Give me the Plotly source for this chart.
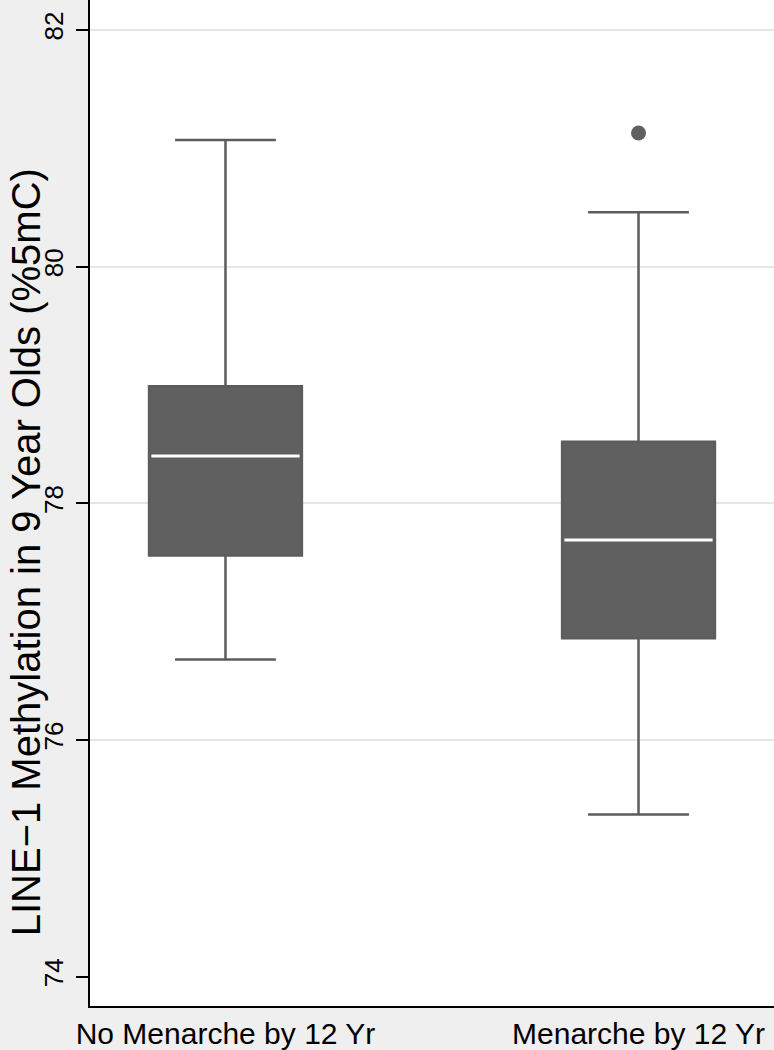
import plotly.graph_objects as go

categories = ["No Menarche by 12 Yr", "Menarche by 12 Yr"]
lower_whisker = [76.68, 75.37]
q1 = [77.56, 76.86]
median = [78.40, 77.69]
q3 = [78.99, 78.52]
upper_whisker = [81.07, 80.46]
outlier_cat = ["Menarche by 12 Yr"]
outlier_val = [81.13]
ytick_vals = [74, 76, 78, 80, 82]
grid_vals = [76, 78, 80, 82]

BOX = "#606060"
LINE = "#5c5c5c"
BW = 0.37
FONT = "Liberation Sans, Arial, sans-serif"

fig = go.Figure()
fig.add_trace(go.Box(
    x=categories, q1=q1, median=median, q3=q3,
    lowerfence=lower_whisker, upperfence=upper_whisker,
    fillcolor=BOX, line=dict(color=LINE, width=2.5),
    width=BW, whiskerwidth=0.66, boxpoints=False, showlegend=False,
    hoverinfo="skip",
))
# white median line
fig.add_trace(go.Box(
    x=categories, q1=median, median=median, q3=median,
    lowerfence=median, upperfence=median,
    fillcolor="rgba(0,0,0,0)", line=dict(color="white", width=3),
    width=BW * 0.97, whiskerwidth=0, boxpoints=False, showlegend=False,
    hoverinfo="skip",
))
fig.add_trace(go.Scatter(
    x=outlier_cat, y=outlier_val, mode="markers",
    marker=dict(color=BOX, size=15), showlegend=False,
))
# invisible trace on grid axis
fig.add_trace(go.Scatter(x=[categories[0]], y=[median[0]], yaxis="y2",
                         mode="markers", marker=dict(opacity=0),
                         showlegend=False, hoverinfo="skip"))

yr = [73.752, 82.2535]
fig.update_layout(
    template="none",
    width=774, height=1050,
    margin=dict(l=90, r=0, t=0, b=44, autoexpand=False),
    paper_bgcolor="#efefef", plot_bgcolor="white",
    boxmode="overlay",
    xaxis=dict(
        type="category", range=[-0.328, 1.328], automargin=False,
        showline=True, linecolor="black", linewidth=1.5,
        ticks="", showgrid=False, zeroline=False,
        tickfont=dict(family=FONT, size=30, color="black"),
        ticklabelstandoff=0,
    ),
    yaxis=dict(
        range=yr, tickvals=ytick_vals, ticktext=[str(v) for v in ytick_vals],
        automargin=False,
        showline=True, linecolor="black", linewidth=1.5,
        ticks="outside", ticklen=12, tickwidth=1.5, tickcolor="black",
        showgrid=False, zeroline=False, tickangle=-90,
        tickfont=dict(family=FONT, size=26, color="black"),
        ticklabelstandoff=3,
    ),
    yaxis2=dict(
        range=yr, overlaying="y", tickvals=grid_vals, showgrid=True,
        gridcolor="#e6e6e6", gridwidth=2, showticklabels=False, ticks="",
        zeroline=False, showline=False, automargin=False,
    ),
    annotations=[dict(
        text="LINE\u22121 Methylation in 9 Year Olds (%5mC)",
        xref="paper", yref="paper", x=-0.0936, y=0.451,
        xanchor="center", yanchor="middle",
        textangle=-90, showarrow=False,
        font=dict(family=FONT, size=40, color="black"),
    )],
)

fig.write_html("out.html", config={"displayModeBar": False},
               post_script="document.body.style.margin='0';")
